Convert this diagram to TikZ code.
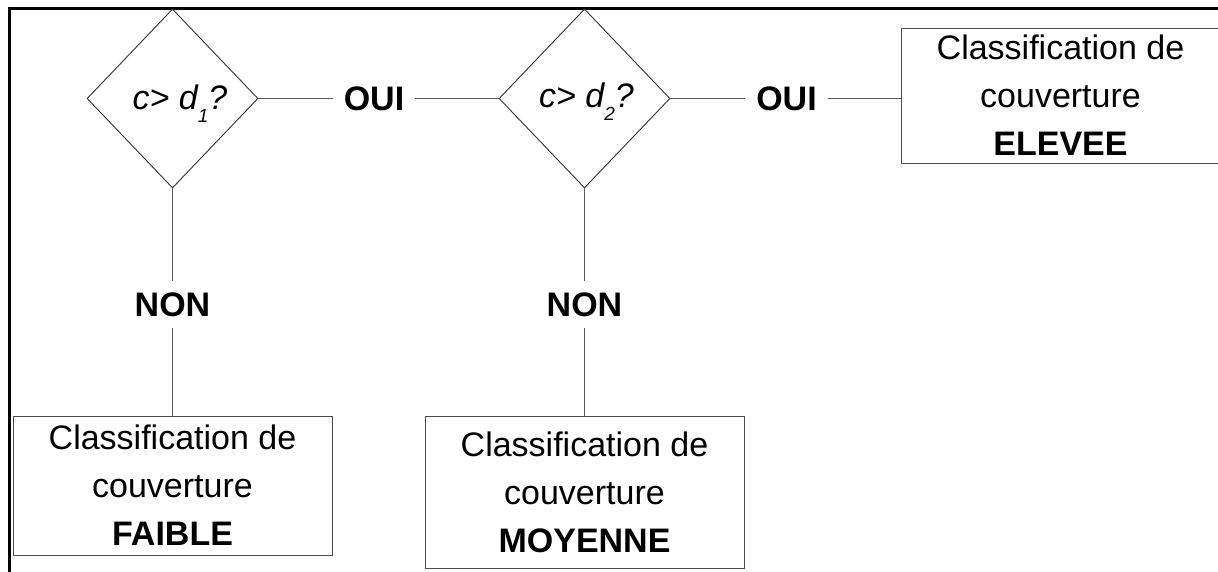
\documentclass[tikz,border=0pt]{standalone}
\usepackage{fontspec}
\setmainfont{Liberation Sans}
\usetikzlibrary{shapes.geometric}
\newcommand{\lowsub}[1]{\raisebox{-13pt}{\fontsize{19}{19}\selectfont #1}}
\begin{document}
\begin{tikzpicture}[x=1pt,y=-1pt,
  classbox/.style={draw=black!70, line width=1pt, rectangle, minimum width=319pt, align=center, inner sep=0pt, font=\fontsize{34}{48}\selectfont},
  decision/.style={draw=black!80, line width=0.9pt, diamond, minimum width=171pt, minimum height=179pt, inner sep=0pt},
  condtext/.style={font=\fontsize{34}{38}\selectfont\itshape, anchor=base, inner sep=0pt},
  answer/.style={font=\fontsize{34}{40}\selectfont\bfseries, inner xsep=11pt, inner ysep=11pt},
  conn/.style={draw=black!65, line width=1.2pt}]
\clip (0,0) rectangle (1218,571);
\draw[line width=3pt] (9,575) -- (9,8) -- (1222,8);
% decisions
\node[decision] (d1) at (172.5,98.5) {};
\node[decision] (d2) at (584.5,98.5) {};
\node[condtext] (t1) at (180,109) {c> d\lowsub{1}?};
\node[condtext] (t2) at (586.5,107) {c> d\lowsub{2}?};
% answers
\node[answer] (oui1) at (374,98.5) {OUI};
\node[answer] (oui2) at (786.5,98.5) {OUI};
\node[answer] (non1) at (172.5,304.5) {NON};
\node[answer] (non2) at (584.5,304.5) {NON};
% classification boxes
\node[classbox, minimum height=139pt] (faible) at (172.5,485.5) {Classification de\\couverture\\\textbf{FAIBLE}};
\node[classbox, minimum height=152pt] (moyenne) at (584.5,492) {Classification de\\couverture\\\textbf{MOYENNE}};
\node[classbox, minimum height=135pt] (elevee) at (1060.5,95.5) {Classification de\\couverture\\\textbf{ELEVEE}};
% connectors
\draw[conn] (d1.east) -- (oui1.west);
\draw[conn] (oui1.east) -- (d2.west);
\draw[conn] (d2.east) -- (oui2.west);
\draw[conn] (oui2.east) -- (oui2.east -| elevee.west);
\draw[conn] (d1.south) -- (non1.north);
\draw[conn] (non1.south) -- (faible.north);
\draw[conn] (d2.south) -- (non2.north);
\draw[conn] (non2.south) -- (moyenne.north);
\end{tikzpicture}
\end{document}
